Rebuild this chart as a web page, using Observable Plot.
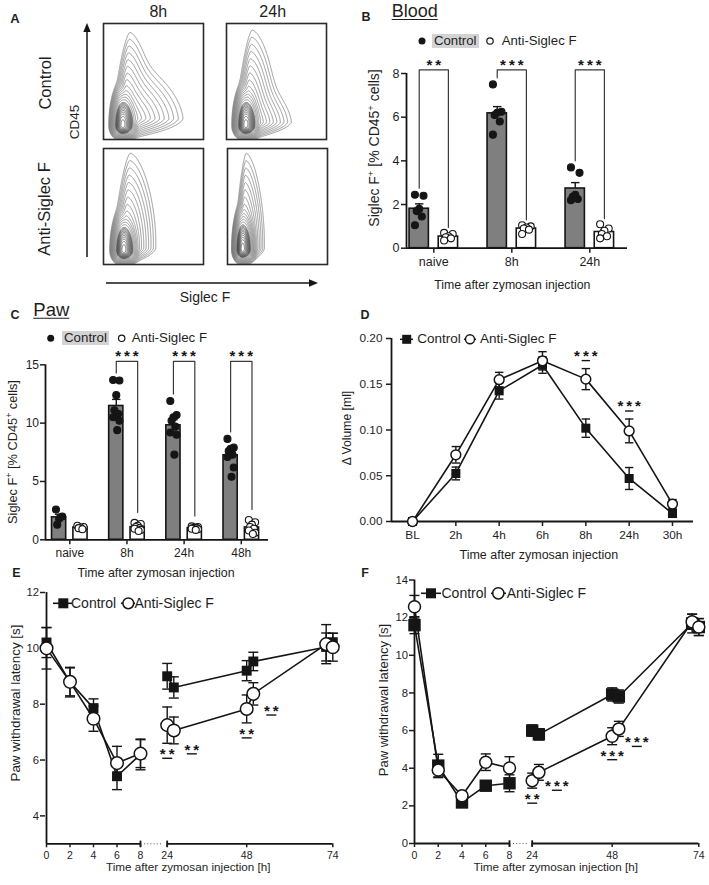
<!DOCTYPE html>
<html>
<head>
<meta charset="utf-8">
<script src="https://cdn.jsdelivr.net/npm/d3@7"></script>
<script src="https://cdn.jsdelivr.net/npm/@observablehq/plot@0.6"></script>
<style>
  html, body { margin: 0; padding: 0; background: #fff; }
  #fig { position: relative; width: 709px; height: 885px; overflow: hidden; background: #fff;
         font-family: "Liberation Sans", Arial, Helvetica, sans-serif; color: #1e1e1e; }
  .lbl { position: absolute; white-space: nowrap; line-height: 1; }
  .lbl sup { font-size: 0.68em; line-height: 0; vertical-align: 0.5em; }
  .panel { position: absolute; }
  .hl { position: absolute; background: #d3d3d3; }
  .ul { text-decoration: underline; text-decoration-thickness: 1.4px; text-underline-offset: 2px; }
</style>
</head>
<body>
<div id="fig"></div>
<script>
// ---------------- DATA ----------------
// Panel A – flow cytometry populations (Siglec F on x, CD45 on y, display units 0–100)
// g: true marks the dense (Gaussian) core of the population
const flowColumns = ["8h", "24h"];
const flowRows = ["Control", "Anti-Siglec F"];
const popsControl8h = [
  {x: 20, y: 14, l: 1.4, r: 3.6, d: 1.7, u: 10.0, s: 0.08, w: 1},
  {x: 24, y: 18, l: 1.5, r: 7.8, d: 2.2, u: 7.0, s: 0, w: 0.5},
  {x: 19, y: 12, l: 3.0, r: 4.2, d: 3.0, u: 8.5, s: 0, w: 14, g: true}
];
const popsControl24h = [
  {x: 20, y: 14, l: 1.4, r: 3.8, d: 1.7, u: 10.3, s: 0.07, w: 1},
  {x: 22, y: 15, l: 1.5, r: 6.2, d: 1.8, u: 5.5, s: 0, w: 0.4},
  {x: 19, y: 12, l: 3.0, r: 4.0, d: 3.0, u: 8.5, s: 0, w: 14, g: true}
];
const popsAnti8h = [
  {x: 21, y: 14, l: 1.5, r: 4.0, d: 1.7, u: 10.5, s: 0.07, w: 1},
  {x: 20, y: 12, l: 3.0, r: 4.0, d: 3.0, u: 8.5, s: 0, w: 14, g: true}
];
const popsAnti24h = [
  {x: 15, y: 14, l: 1.0, r: 2.8, d: 1.7, u: 10.5, s: 0.045, w: 1},
  {x: 15, y: 13, l: 2.4, r: 3.4, d: 3.0, u: 9.0, s: 0, w: 14, g: true}
];

// Panel B – Blood, Siglec F+ [% CD45+ cells]
const bloodGroups = ["naive", "8h", "24h"];
const bloodControl = [
  [2.45, 2.4, 1.8, 1.7, 1.45, 1.05],
  [7.5, 6.25, 6.2, 6.1, 5.8, 5.2],
  [3.7, 3.45, 2.45, 2.35, 2.25, 2.2]
];
const bloodAnti = [
  [0.7, 0.65, 0.55, 0.5, 0.45, 0.35],
  [1.05, 1.0, 0.95, 0.9, 0.85, 0.65],
  [1.1, 0.9, 0.8, 0.65, 0.55, 0.45]
];
const bloodSig = ["**", "***", "***"];
const bloodTicks = [0, 2, 4, 6, 8];

// Panel C – Paw, Siglec F+ [% CD45+ cells]
const pawGroups = ["naive", "8h", "24h", "48h"];
const pawControl = [
  [2.6, 2.0, 1.8, 1.3],
  [13.7, 13.65, 12.4, 11.1, 10.8, 10.5, 10.2, 9.4],
  [11.9, 10.7, 10.5, 10.2, 9.7, 9.2, 9.0, 7.3],
  [8.65, 7.9, 7.8, 7.6, 7.3, 7.1, 6.2, 5.4]
];
const pawAnti = [
  [1.2, 1.1, 1.05, 1.0, 0.9],
  [1.45, 1.35, 1.2, 1.1, 1.0, 0.95, 0.85, 0.75],
  [1.15, 1.1, 1.05, 1.0, 1.0, 0.95, 0.9, 0.85],
  [1.7, 1.5, 1.3, 1.1, 0.95, 0.8, 0.6, 0.5]
];
const pawSig = ["", "***", "***", "***"];
const pawTicks = [0, 5, 10, 15];

// Panel D – Δ Volume [ml]
const volTimes = ["BL", "2h", "4h", "6h", "8h", "24h", "30h"];
const volControl = [0, 0.0525, 0.1428, 0.171, 0.102, 0.047, 0.0087];
const volControlSem = [0, 0.007, 0.009, 0.009, 0.010, 0.012, 0.004];
const volAnti = [0, 0.0729, 0.155, 0.1756, 0.1556, 0.099, 0.019];
const volAntiSem = [0, 0.009, 0.008, 0.010, 0.0115, 0.013, 0.005];
const volSig = ["", "", "", "", "***", "***", ""];
const volTicks = [0, 0.05, 0.10, 0.15, 0.20];

// Panels E & F – Paw withdrawal latency [s]
const latTimes = [0, 2, 4, 6, 8, 24, 26, 48, 50, 72, 74];
const latTickValues = [0, 2, 4, 6, 8, 24, 48, 74];
const latEControl = [10.21, 8.79, 7.86, 5.42, 6.2, 9.0, 8.6, 9.2, 9.53, 10.05, 10.22];
const latEControlSem = [0.54, 0.53, 0.33, 0.48, 0.55, 0.46, 0.38, 0.36, 0.33, 0.5, 0.32];
const latEAnti = [10.0, 8.8, 7.48, 5.89, 6.23, 7.25, 7.06, 7.83, 8.37, 10.15, 10.04];
const latEAntiSem = [0.74, 0.5, 0.45, 0.6, 0.5, 0.65, 0.48, 0.5, 0.4, 0.7, 0.5];
const latESig = ["", "", "", "", "", "**", "**", "**", "**", "", ""];
const latETicks = [4, 6, 8, 10, 12];

const latFControl = [11.6, 4.14, 2.18, 3.07, 3.2, 6.0, 5.8, 7.92, 7.81, 11.69, 11.5];
const latFControlSem = [0.45, 0.6, 0.25, 0.25, 0.45, 0.3, 0.3, 0.35, 0.35, 0.5, 0.45];
const latFAnti = [12.58, 3.9, 2.54, 4.32, 4.01, 3.34, 3.78, 5.7, 6.09, 11.78, 11.5];
const latFAntiSem = [0.6, 0.4, 0.2, 0.44, 0.6, 0.4, 0.42, 0.45, 0.4, 0.4, 0.45];
const latFSig = ["", "", "", "", "", "**", "***", "***", "***", "", ""];
const latFTicks = [0, 2, 4, 6, 8, 10, 12, 14];

// ---------------- HELPERS ----------------
const fig = document.getElementById("fig");
const FONT = '"Liberation Sans", Arial, Helvetica, sans-serif';
const INK = "#151515";
const STYLE = {background: "transparent", overflow: "visible", fontFamily: FONT, fontSize: "12.5px", color: "#1e1e1e"};
const hbar = {draw(ctx, size) { const h = Math.sqrt(size / Math.PI); ctx.moveTo(-h, 0); ctx.lineTo(h, 0); }};
const vbar = {draw(ctx, size) { const h = Math.sqrt(size / Math.PI); ctx.moveTo(0, -h); ctx.lineTo(0, h); }};
const STAR = s => s.split("").join("\u2009");
const STARFONT = {fontSize: 15, fontWeight: "bold", fill: INK};

// decoration layer (arrows, legend keys)
const deco = d3.select(fig).append("svg")
  .attr("width", 709).attr("height", 885)
  .style("position", "absolute").style("left", "0px").style("top", "0px");

function label(html, x, y, o = {}) {
  const el = document.createElement("div");
  el.className = "lbl" + (o.cls ? " " + o.cls : "");
  el.innerHTML = html;
  el.style.left = x + "px";
  el.style.top = y + "px";
  el.style.fontSize = (o.size || 12.5) + "px";
  if (o.weight) el.style.fontWeight = o.weight;
  const tx = o.anchor === "start" ? "0" : o.anchor === "end" ? "-100%" : "-50%";
  el.style.transform = `translate(${tx},-50%)` + (o.rotate ? " rotate(-90deg)" : "");
  fig.appendChild(el);
  return el;
}
function highlight(x, y, w, h) {
  const el = document.createElement("div");
  el.className = "hl";
  Object.assign(el.style, {left: x + "px", top: y + "px", width: w + "px", height: h + "px"});
  fig.appendChild(el);
}
function put(plot, left, top, width) {
  const d = document.createElement("div");
  d.className = "panel";
  d.style.left = left + "px";
  d.style.top = top + "px";
  d.style.width = width + "px";
  d.appendChild(plot);
  fig.appendChild(d);
}

// ---------------- PANEL A ----------------
const outerLevels = d3.range(1, 14).map(k => Math.exp(-0.6 * k));
const coreLevels = d3.range(0, 11).map(j => Math.exp(0.25 * j));
const P = 1.6; // shape exponent of the contour kernel
function flowPlot(pops) {
  const f = (x, y) => d3.sum(pops, p => {
    const dy = y - p.y, dx = x - (p.x + p.s * dy);
    const nx = Math.abs(dx / (dx < 0 ? p.l : p.r)), ny = Math.abs(dy / (dy < 0 ? p.d : p.u));
    if (p.g) return p.w * Math.exp(-(nx * nx + ny * ny) / 2);
    return p.w * Math.exp(-Math.pow(Math.pow(nx, P) + Math.pow(ny, P), 1 / P));
  });
  const common = {x1: 0, y1: 0, x2: 100, y2: 100, value: f, fill: "none", pixelSize: 0.5};
  return Plot.plot({
    width: 100, height: 116, margin: 0,
    x: {domain: [0, 100], axis: null}, y: {domain: [0, 100], axis: null},
    style: STYLE,
    marks: [
      Plot.contour({...common, thresholds: outerLevels, stroke: "#6e6e6e", strokeWidth: 0.7}),
      Plot.contour({...common, thresholds: coreLevels, stroke: "#444", strokeWidth: 0.7}),
      Plot.frame({stroke: "#2a2a2a", strokeWidth: 1.6})
    ]
  });
}
put(flowPlot(popsControl8h), 103.3, 23.3, 100);
put(flowPlot(popsControl24h), 226, 23.3, 100);
put(flowPlot(popsAnti8h), 103.3, 148.3, 100);
put(flowPlot(popsAnti24h), 226.5, 148.3, 100);

label("A", 15, 18, {size: 13, weight: "bold"});
label(flowColumns[0], 158.3, 11.5, {size: 16});
label(flowColumns[1], 272.7, 11.5, {size: 16});
label(flowRows[0], 44.5, 83.3, {size: 16.5, rotate: true});
label(flowRows[1], 44, 208.7, {size: 16.5, rotate: true});
label("CD45", 75, 121.7, {size: 13.5, rotate: true});
label("Siglec F", 205, 297, {size: 14});
deco.append("line").attr("x1", 87).attr("y1", 257).attr("x2", 87).attr("y2", 30).attr("stroke", INK).attr("stroke-width", 1.5);
deco.append("path").attr("d", "M87,23 L83.3,32 L90.7,32 Z").attr("fill", INK);
deco.append("line").attr("x1", 106).attr("y1", 283).attr("x2", 310).attr("y2", 283).attr("stroke", INK).attr("stroke-width", 1.5);
deco.append("path").attr("d", "M318,283 L309,279.3 L309,286.7 Z").attr("fill", INK);

// ---------------- BAR PANELS (B, C) ----------------
const spread = [-1, 1, 0, -0.6, 0.6, -1, 1, 0.3, -0.3, 0];
function barPlot(o) {
  const OFF = 0.187, HW = 0.124, J = 0.055;
  const bars = [], pts = [], brackets = [];
  o.groups.forEach((g, i) => {
    [[o.control[i], "Control", -OFF], [o.anti[i], "Anti", OFF]].forEach(([vals, s, off]) => {
      const m = d3.mean(vals), sem = d3.deviation(vals) / Math.sqrt(vals.length);
      bars.push({s, x: i + off, m, sem});
      vals.forEach((v, k) => pts.push({s, x: i + off + spread[k % spread.length] * J, v}));
    });
    if (o.sig[i]) {
      brackets.push({i, x: i - OFF, y: d3.max(o.control[i]) + o.padC});
      brackets.push({i, x: i - OFF, y: o.top});
      brackets.push({i, x: i + OFF, y: o.top});
      brackets.push({i, x: i + OFF, y: d3.max(o.anti[i]) + o.padA});
    }
  });
  const sigs = o.sig.map((s, i) => ({i, s})).filter(d => d.s);
  const yMax = o.ticks[o.ticks.length - 1];
  return Plot.plot({
    width: o.width, height: o.height,
    marginLeft: o.marginLeft, marginRight: o.marginRight, marginTop: o.marginTop, marginBottom: o.marginBottom,
    x: {type: "linear", domain: o.xDomain}, y: {type: "linear", domain: [0, yMax]},
    style: {...STYLE, fontSize: o.fontSize},
    marks: [
      Plot.rectY(bars, {x1: d => d.x - HW, x2: d => d.x + HW, y1: 0, y2: "m",
        fill: d => d.s === "Control" ? "#7f7f7f" : "white", stroke: INK, strokeWidth: 1.6}),
      Plot.ruleX(bars, {x: "x", y1: "m", y2: d => d.m + d.sem, stroke: INK, strokeWidth: 1.4}),
      Plot.dot(bars, {x: "x", y: d => d.m + d.sem, symbol: hbar, r: 4.2, stroke: INK, fill: "none", strokeWidth: 1.4}),
      Plot.dot(pts, {x: "x", y: "v", r: 3.5, fill: d => d.s === "Control" ? INK : "white", stroke: INK, strokeWidth: 1.1}),
      Plot.line(brackets, {x: "x", y: "y", z: "i", stroke: "#3a3a3a", strokeWidth: 1.2}),
      Plot.text(sigs, {x: "i", y: () => o.top, text: d => STAR(d.s), dy: o.starDy, ...STARFONT}),
      Plot.ruleX([o.xDomain[0]], {y1: 0, y2: yMax, stroke: INK, strokeWidth: 1.8}),
      Plot.ruleY([0], {stroke: INK, strokeWidth: 1.8}),
      Plot.axisY({ticks: o.ticks, tickSize: 5, tickPadding: o.yPad, strokeWidth: 1.5, label: null}),
      Plot.axisX({ticks: d3.range(o.groups.length), tickFormat: i => o.groups[i], tickSize: 5, tickPadding: 4, strokeWidth: 1.5, label: null})
    ]
  });
}

put(barPlot({
  groups: bloodGroups, control: bloodControl, anti: bloodAnti, sig: bloodSig, ticks: bloodTicks,
  xDomain: [-0.35, 2.483], top: 8.17, padC: 0.3, padA: 0.25, starDy: -5,
  width: 285, height: 260, marginLeft: 46, marginRight: 18, marginTop: 33, marginBottom: 52.3,
  fontSize: "12.5px", yPad: 2
}), 360, 40, 285);

put(barPlot({
  groups: pawGroups, control: pawControl, anti: pawAnti, sig: pawSig, ticks: pawTicks,
  xDomain: [-0.425, 3.476], top: 15.3, padC: 0.6, padA: 0.9, starDy: -5,
  width: 280, height: 250, marginLeft: 45, marginRight: 12, marginTop: 34.3, marginBottom: 40.7,
  fontSize: "12px", yPad: 1.5
}), 0, 330, 280);

// Panel B texts
label("B", 366, 17, {size: 12.5, weight: "bold"});
label("Blood", 391.7, 11, {size: 18, anchor: "start", cls: "ul"});
deco.append("circle").attr("cx", 422).attr("cy", 41).attr("r", 3.5).attr("fill", INK);
highlight(431.7, 34, 47.6, 14);
label("Control", 434, 41, {size: 13.2, anchor: "start"});
deco.append("circle").attr("cx", 490).attr("cy", 41).attr("r", 3.2).attr("fill", "white").attr("stroke", INK).attr("stroke-width", 1.2);
label("Anti-Siglec F", 501.7, 41, {size: 13.2, anchor: "start"});
label("Siglec F<sup>+</sup> [% CD45<sup>+</sup> cells]", 374, 148.3, {size: 14, rotate: true});
label("Time after zymosan injection", 512.3, 285, {size: 12.3});

// Panel C texts
label("C", 15, 314.5, {size: 12.5, weight: "bold"});
label("Paw", 33.3, 309.5, {size: 18.5, anchor: "start", cls: "ul"});
deco.append("circle").attr("cx", 50.7).attr("cy", 338.3).attr("r", 3.5).attr("fill", INK);
highlight(61.7, 331.3, 47.6, 14);
label("Control", 64, 338.3, {size: 13.3, anchor: "start"});
deco.append("circle").attr("cx", 121.7).attr("cy", 338.3).attr("r", 3.2).attr("fill", "white").attr("stroke", INK).attr("stroke-width", 1.2);
label("Anti-Siglec F", 131.7, 338.3, {size: 13.3, anchor: "start"});
label("Siglec F<sup>+</sup> [% CD45<sup>+</sup> cells]", 13, 451.7, {size: 12.8, rotate: true});
label("Time after zymosan injection", 156, 573.3, {size: 12.4});

// ---------------- PANEL D ----------------
function volumePlot() {
  const rows = volTimes.flatMap((t, i) => [
    {s: "Control", i, v: volControl[i], e: volControlSem[i]},
    {s: "Anti", i, v: volAnti[i], e: volAntiSem[i]}
  ]);
  const ctrl = rows.filter(d => d.s === "Control"), an = rows.filter(d => d.s === "Anti");
  const err = rows.filter(d => d.e > 0);
  const sig = volTimes.map((t, i) => ({i, top: volAnti[i] + volAntiSem[i], s: volSig[i]})).filter(d => d.s);
  const x0 = -0.485;
  return Plot.plot({
    width: 345, height: 250, marginLeft: 31, marginRight: 12, marginTop: 18, marginBottom: 49,
    x: {type: "linear", domain: [x0, 6.485]}, y: {type: "linear", domain: [0, 0.2]},
    style: {...STYLE, fontSize: "11.8px"},
    marks: [
      Plot.ruleX([x0], {y1: 0, y2: 0.2, stroke: INK, strokeWidth: 1.8}),
      Plot.ruleY([0], {stroke: INK, strokeWidth: 1.8}),
      Plot.axisY({ticks: volTicks, tickFormat: d3.format(".2f"), tickSize: 5, tickPadding: 4, strokeWidth: 1.5, label: null}),
      Plot.axisX({ticks: d3.range(volTimes.length), tickFormat: i => volTimes[i], tickSize: 5, tickPadding: 4, strokeWidth: 1.5, label: null}),
      Plot.line(ctrl, {x: "i", y: "v", stroke: INK, strokeWidth: 1.6}),
      Plot.line(an, {x: "i", y: "v", stroke: INK, strokeWidth: 1.6}),
      Plot.ruleX(err, {x: "i", y1: d => d.v - d.e, y2: d => d.v + d.e, stroke: INK, strokeWidth: 1.4}),
      Plot.dot(err, {x: "i", y: d => d.v + d.e, symbol: hbar, r: 4.2, stroke: INK, fill: "none", strokeWidth: 1.4}),
      Plot.dot(err, {x: "i", y: d => d.v - d.e, symbol: hbar, r: 4.2, stroke: INK, fill: "none", strokeWidth: 1.4}),
      Plot.dot(ctrl, {x: "i", y: "v", symbol: "square", r: 5.1, fill: INK}),
      Plot.dot(an, {x: "i", y: "v", r: 4.9, fill: "white", stroke: INK, strokeWidth: 1.5}),
      Plot.text(sig, {x: "i", y: "top", text: d => STAR(d.s), dy: -12.5, ...STARFONT}),
      Plot.dot(sig, {x: "i", y: "top", symbol: hbar, r: 4.2, dy: -8, stroke: INK, fill: "none", strokeWidth: 1.4})
    ]
  });
}
put(volumePlot(), 360, 320, 345);
label("D", 365, 315, {size: 12.5, weight: "bold"});
deco.append("line").attr("x1", 400).attr("x2", 413).attr("y1", 339.3).attr("y2", 339.3).attr("stroke", INK).attr("stroke-width", 1.5);
deco.append("rect").attr("x", 402.2).attr("y", 334.8).attr("width", 9).attr("height", 9).attr("fill", INK);
label("Control", 417.3, 339.3, {size: 13.5, anchor: "start"});
deco.append("line").attr("x1", 464).attr("x2", 476).attr("y1", 339.3).attr("y2", 339.3).attr("stroke", INK).attr("stroke-width", 1.5);
deco.append("circle").attr("cx", 470).attr("cy", 339.3).attr("r", 4.5).attr("fill", "white").attr("stroke", INK).attr("stroke-width", 1.4);
label("Anti-Siglec F", 480, 339.3, {size: 13.5, anchor: "start"});
label("\u0394 Volume [ml]", 347, 427.5, {size: 12.2, rotate: true});
label("Time after zymosan injection", 538.8, 555, {size: 12.5});

// ---------------- PANELS E, F ----------------
function latencyPlot(o) {
  const rows = [];
  latTimes.forEach((t, i) => {
    rows.push({s: "Control", t, v: o.control[i], e: o.controlSem[i], seg: t <= 8 ? 0 : 1});
    rows.push({s: "Anti", t, v: o.anti[i], e: o.antiSem[i], seg: t <= 8 ? 0 : 1});
  });
  const ctrl = rows.filter(d => d.s === "Control"), an = rows.filter(d => d.s === "Anti");
  const sig = latTimes.map((t, i) => ({t, low: o.anti[i] - o.antiSem[i], s: o.sig[i]})).filter(d => d.s);
  const sigA = sig.filter(d => d.t === 24 || d.t === 48), sigB = sig.filter(d => d.t !== 24 && d.t !== 48);
  const y0 = o.yDomain[0], y1 = o.yDomain[1];
  const tw = 1.4;
  return Plot.plot({
    width: o.width, height: o.height, marginLeft: o.marginLeft, marginRight: 0,
    marginTop: o.marginTop, marginBottom: o.marginBottom,
    x: {type: "linear", domain: [0, 8, 24, 74], range: o.range},
    y: {type: "linear", domain: o.yDomain},
    style: {...STYLE, fontSize: "11.3px"},
    marks: [
      Plot.ruleX([0], {y1: y0, y2: y1, stroke: INK, strokeWidth: 1.8}),
      Plot.ruleY([y0], {x1: 0, x2: 8, stroke: INK, strokeWidth: 1.8}),
      Plot.ruleY([y0], {x1: 24, x2: 74, stroke: INK, strokeWidth: 1.8}),
      Plot.ruleY([y0], {x1: 8, x2: 24, stroke: "#555", strokeWidth: 1, strokeDasharray: "1,2.2", inset: 4}),
      Plot.dot([8, 24], {x: d => d, y: () => y0, symbol: vbar, r: 3.2, stroke: INK, fill: "none", strokeWidth: 1.8}),
      Plot.axisY({ticks: o.yTicks, tickSize: 5, tickPadding: 1.5, strokeWidth: 1.5, label: null}),
      Plot.axisX({ticks: latTickValues, tickSize: 4, tickPadding: 4, strokeWidth: 1.5, fontSize: 10.5, label: null}),
      Plot.line(ctrl, {x: "t", y: "v", z: "seg", stroke: INK, strokeWidth: 1.6}),
      Plot.line(an, {x: "t", y: "v", z: "seg", stroke: INK, strokeWidth: 1.6}),
      Plot.ruleX(rows, {x: "t", y1: d => d.v - d.e, y2: d => d.v + d.e, stroke: INK, strokeWidth: tw}),
      Plot.dot(rows, {x: "t", y: d => d.v + d.e, symbol: hbar, r: 5, stroke: INK, fill: "none", strokeWidth: tw}),
      Plot.dot(rows, {x: "t", y: d => d.v - d.e, symbol: hbar, r: 5, stroke: INK, fill: "none", strokeWidth: tw}),
      Plot.dot(ctrl, {x: "t", y: "v", symbol: "square", r: o.sq, fill: INK}),
      Plot.dot(an, {x: "t", y: "v", r: o.circ, fill: "white", stroke: INK, strokeWidth: 1.5}),
      Plot.text(sigA, {x: "t", y: "low", text: d => STAR(d.s), dy: 11, ...STARFONT}),
      Plot.dot(sigA, {x: "t", y: "low", symbol: hbar, r: 5, dy: 15, stroke: INK, fill: "none", strokeWidth: 1.4}),
      Plot.text(sigB, {x: "t", y: "low", text: d => STAR(d.s), dx: 18, dy: 6, ...STARFONT}),
      Plot.dot(sigB, {x: "t", y: "low", symbol: hbar, r: 5, dx: 18, dy: 10, stroke: INK, fill: "none", strokeWidth: 1.4})
    ]
  });
}

put(latencyPlot({
  control: latEControl, controlSem: latEControlSem, anti: latEAnti, antiSem: latEAntiSem, sig: latESig,
  yDomain: [3, 12], yTicks: latETicks, range: [46, 140, 166.7, 332.3],
  width: 350, height: 315, marginLeft: 45, marginTop: 22, marginBottom: 41.7, sq: 5.6, circ: 6.3
}), 0, 570, 350);
label("E", 16.5, 572.5, {size: 12.5, weight: "bold"});
deco.append("line").attr("x1", 53).attr("x2", 72).attr("y1", 603.3).attr("y2", 603.3).attr("stroke", INK).attr("stroke-width", 1.6);
deco.append("rect").attr("x", 58.3).attr("y", 598.3).attr("width", 10).attr("height", 10).attr("fill", INK);
label("Control", 71, 603.3, {size: 14, anchor: "start"});
deco.append("line").attr("x1", 121).attr("x2", 135).attr("y1", 603.3).attr("y2", 603.3).attr("stroke", INK).attr("stroke-width", 1.6);
deco.append("circle").attr("cx", 128.3).attr("cy", 603.3).attr("r", 5.4).attr("fill", "white").attr("stroke", INK).attr("stroke-width", 1.5);
label("Anti-Siglec F", 134.5, 603.3, {size: 14, anchor: "start"});
label("Paw withdrawal latency [s]", 15.5, 702.5, {size: 13.4, rotate: true});
label("Time after zymosan injection [h]", 188.3, 867, {size: 11.7});

put(latencyPlot({
  control: latFControl, controlSem: latFControlSem, anti: latFAnti, antiSem: latFAntiSem, sig: latFSig,
  yDomain: [0, 14], yTicks: latFTicks, range: [59, 154, 176.7, 343.3],
  width: 354, height: 315, marginLeft: 59, marginTop: 9.5, marginBottom: 42, sq: 7, circ: 6
}), 355, 570, 354);
label("F", 365, 572.5, {size: 12.5, weight: "bold"});
deco.append("line").attr("x1", 421).attr("x2", 441).attr("y1", 593.3).attr("y2", 593.3).attr("stroke", INK).attr("stroke-width", 1.6);
deco.append("rect").attr("x", 426).attr("y", 588.3).attr("width", 10).attr("height", 10).attr("fill", INK);
label("Control", 441.5, 593.3, {size: 14, anchor: "start"});
deco.append("line").attr("x1", 491).attr("x2", 506).attr("y1", 593.3).attr("y2", 593.3).attr("stroke", INK).attr("stroke-width", 1.6);
deco.append("circle").attr("cx", 498.3).attr("cy", 593.3).attr("r", 5.6).attr("fill", "white").attr("stroke", INK).attr("stroke-width", 1.5);
label("Anti-Siglec F", 506.7, 593.3, {size: 14, anchor: "start"});
label("Paw withdrawal latency [s]", 383, 700, {size: 13, rotate: true});
label("Time after zymosan injection [h]", 555.8, 867, {size: 11.7});
</script>
</body>
</html>
